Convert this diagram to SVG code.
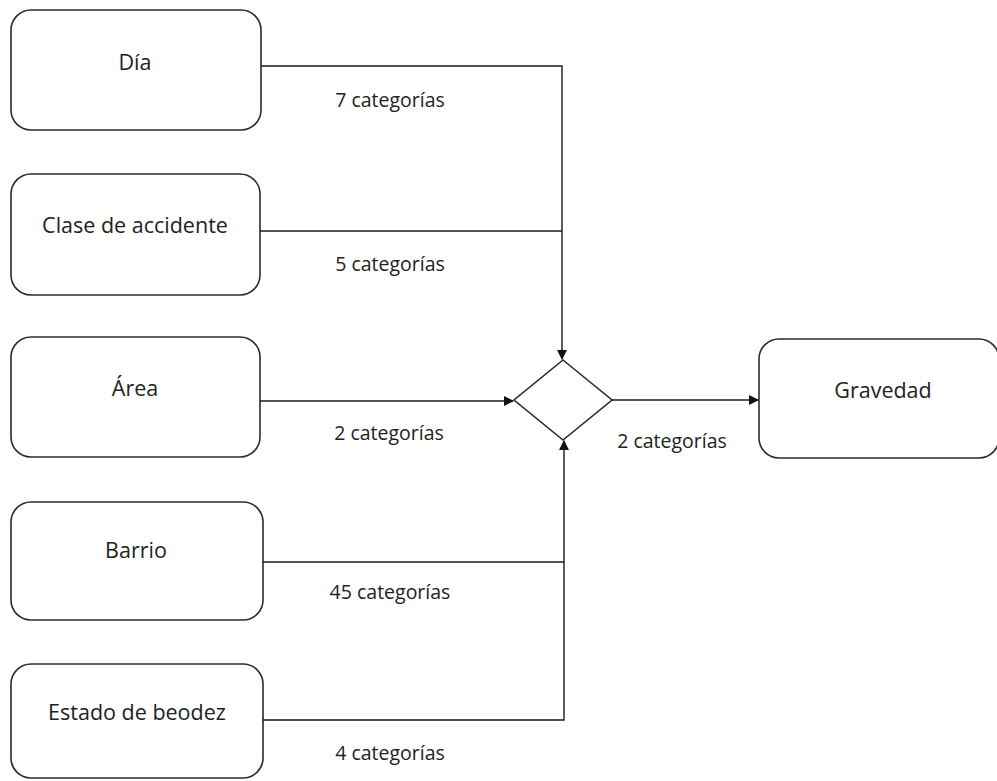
<svg xmlns="http://www.w3.org/2000/svg" width="997" height="781" viewBox="0 0 997 781">
<style>
.box{fill:#fff;stroke:#2b2b2b;stroke-width:1.6}
.t{font-family:"Open Sans","Liberation Sans",sans-serif;font-size:21.5px;fill:#222;text-anchor:middle}
.l{font-family:"Open Sans","Liberation Sans",sans-serif;font-size:19.5px;fill:#222;text-anchor:middle}
.c{fill:none;stroke:#1a1a1a;stroke-width:1.4}
</style>
<defs>
<marker id="ah" markerWidth="10" markerHeight="10" refX="9" refY="5" orient="auto" markerUnits="userSpaceOnUse">
<path d="M0,0 L10,5 L0,10 Z" fill="#111"/>
</marker>
</defs>
<rect width="997" height="781" fill="#fff"/>
<g id="dia"><rect class="box" x="11" y="10" width="250" height="120" rx="20"/><text class="t" x="135" y="70">Día</text></g>
<g id="clase"><rect class="box" x="11" y="174" width="249" height="121" rx="20"/><text class="t" x="135" y="233">Clase de accidente</text></g>
<g id="area"><rect class="box" x="11" y="337" width="249" height="120" rx="20"/><text class="t" x="135" y="396">Área</text></g>
<g id="barrio"><rect class="box" x="11" y="502" width="252" height="118" rx="20"/><text class="t" x="136" y="558">Barrio</text></g>
<g id="estado"><rect class="box" x="11" y="664" width="252" height="114" rx="20"/><text class="t" x="137" y="720">Estado de beodez</text></g>
<g id="decision"><polygon class="box" points="563,360 612,400 563,440 514,400"/></g>
<g id="gravedad"><rect class="box" x="759" y="339" width="240" height="119" rx="20"/><text class="t" x="883" y="398">Gravedad</text></g>
<g id="connectors">
<path class="c" d="M261,66 H562 V359" marker-end="url(#ah)"/>
<path class="c" d="M260,231 H562"/>
<path class="c" d="M260,401 H513" marker-end="url(#ah)"/>
<path class="c" d="M263,562 H564"/>
<path class="c" d="M263,720 H564 V441" marker-end="url(#ah)"/>
<path class="c" d="M612,400 H758" marker-end="url(#ah)"/>
</g>
<g id="labels">
<text class="l" x="390" y="107">7 categorías</text>
<text class="l" x="390" y="271">5 categorías</text>
<text class="l" x="389" y="440">2 categorías</text>
<text class="l" x="390" y="599">45 categorías</text>
<text class="l" x="390" y="760">4 categorías</text>
<text class="l" x="672" y="448">2 categorías</text>
</g>
</svg>
